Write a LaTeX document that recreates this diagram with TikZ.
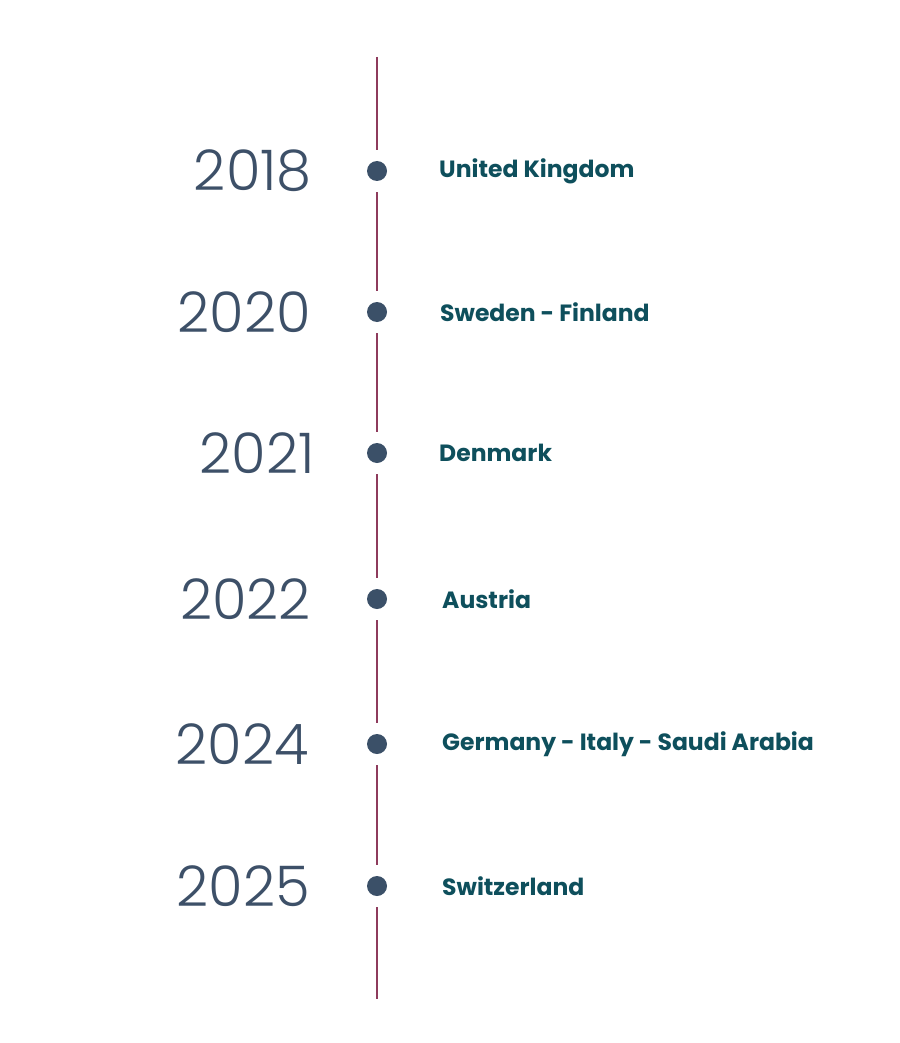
\documentclass[tikz,border=0pt]{standalone}
\usepackage{fontspec}
\setmainfont{Poppins}
\newfontfamily\yearfont{Poppins Light}
\newfontfamily\cfont{Poppins Bold}
\definecolor{linec}{HTML}{8E3B5C}
\definecolor{dotc}{HTML}{3B5068}
\definecolor{yearc}{HTML}{3D5068}
\definecolor{countryc}{HTML}{0E4F5C}
\tikzset{
  dotnode/.style={circle, fill=dotc, minimum size=20pt, inner sep=0pt},
  halo/.style={circle, fill=white, minimum size=42pt, inner sep=0pt},
  yearlab/.style={anchor=east, text=yearc, font=\yearfont\fontsize{56}{56}\selectfont, inner sep=0pt},
  countrylab/.style={anchor=west, text=countryc, font=\cfont\fontsize{23.5}{23.5}\selectfont, inner sep=0pt},
  tline/.style={draw=linec, line width=1.3pt}
}
\begin{document}
\begin{tikzpicture}[x=1pt,y=-1pt]
\useasboundingbox (0,0) rectangle (899,1043);
\coordinate (top) at (377,57);
\coordinate (bot) at (377,999);
\draw[tline] (top) -- (bot);
\foreach \n/\y/\yr/\yx/\c/\cx in {a/171/2018/312/United Kingdom/439, b/312/2020/311/Sweden - Finland/440, c/453/2021/315/Denmark/439, d/599/2022/311/Austria/442, e/744/2024/309/Germany - Italy - Saudi Arabia/442, f/886/2025/310/Switzerland/442}{
  \node[halo] (h\n) at (377,\y) {};
  \node[dotnode] (d\n) at (377,\y) {};
  \node[yearlab] (y\n) at (\yx,\y) {\yr};
  \node[countrylab] (c\n) at (\cx,\y) {\c};
}
\end{tikzpicture}
\end{document}
